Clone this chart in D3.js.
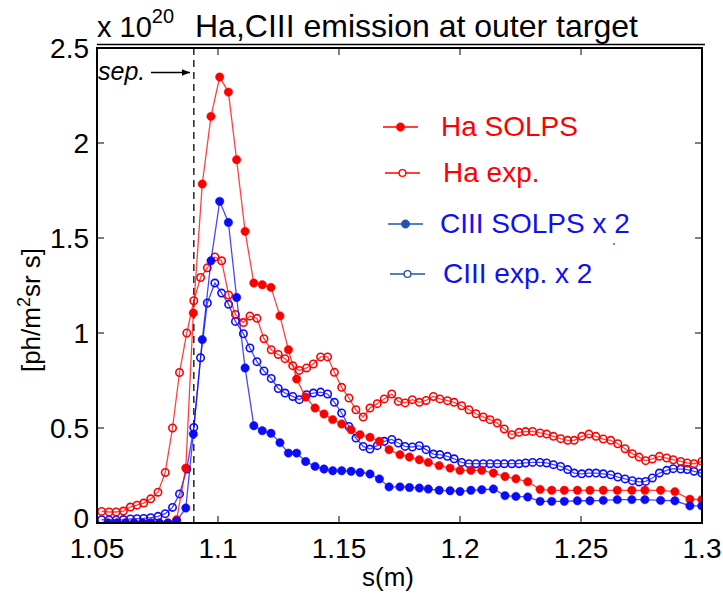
<!DOCTYPE html>
<html><head><meta charset="utf-8">
<script src="https://cdn.jsdelivr.net/npm/d3@7"></script>
<style>body{margin:0;background:#fff}svg{display:block;font-family:"Liberation Sans",Arial,sans-serif}</style>
</head><body><svg id="c" width="723" height="594"></svg>
<script>
// ---- data ----
const xTicks = [1.05, 1.1, 1.15, 1.2, 1.25, 1.3];
const xTickLabels = ["1.05", "1.1", "1.15", "1.2", "1.25", "1.3"];
const yTicks = [0, 0.5, 1, 1.5, 2, 2.5];
const yTickLabels = ["0", "0.5", "1", "1.5", "2", "2.5"];
const sepPosition = 1.09;

// SOLPS grid (s in m)
const solpsS = [1.0545,1.0583,1.0618,1.0653,1.0688,1.0723,1.0758,1.0793,1.0829,1.0867,1.0898,1.0935,1.0971,1.1007,1.1043,1.1077,1.1112,1.1148,1.1183,1.1219,1.1256,1.1291,1.1325,1.1362,1.1401,1.1438,1.1474,1.1511,1.155,1.1587,1.1628,1.1667,1.1707,1.1752,1.1791,1.1832,1.1869,1.1914,1.1959,1.2,1.2045,1.209,1.2138,1.2186,1.2231,1.228,1.2331,1.2379,1.2431,1.2485,1.2537,1.2592,1.265,1.271,1.2764,1.2829,1.2888,1.295,1.2999];
const haSolps = [0,0,0,0,0,0,0,0,0.017,0.289,1.105,1.784,2.14,2.347,2.268,1.912,1.535,1.263,1.254,1.24,1.09,0.912,0.758,0.663,0.605,0.574,0.544,0.521,0.491,0.465,0.451,0.43,0.386,0.36,0.347,0.333,0.319,0.302,0.289,0.277,0.277,0.277,0.263,0.245,0.233,0.217,0.177,0.172,0.172,0.172,0.172,0.172,0.172,0.172,0.172,0.172,0.165,0.125,0.123];
const ciiiSolps = [0,0,0,0,0,0,0,0,0.01,0.079,0.468,0.965,1.38,1.693,1.582,1.187,0.816,0.512,0.486,0.472,0.423,0.368,0.368,0.324,0.298,0.284,0.275,0.275,0.272,0.266,0.258,0.232,0.19,0.19,0.187,0.184,0.179,0.172,0.17,0.166,0.172,0.175,0.179,0.144,0.14,0.137,0.114,0.114,0.114,0.117,0.117,0.119,0.123,0.123,0.123,0.119,0.117,0.09,0.09];

// experiment grid (s in m)
const expS = [1.0519,1.055,1.0579,1.0609,1.0638,1.0665,1.0693,1.0722,1.0752,1.0782,1.0812,1.0841,1.0871,1.09,1.0928,1.0956,1.0987,1.1015,1.1044,1.1072,1.1105,1.1132,1.1161,1.119,1.122,1.1249,1.1277,1.1309,1.1336,1.1366,1.1394,1.1424,1.1453,1.1481,1.1511,1.1541,1.157,1.16,1.1628,1.1658,1.1687,1.1718,1.1745,1.1773,1.1803,1.1832,1.186,1.189,1.1917,1.1948,1.1976,1.2007,1.2037,1.2066,1.2096,1.2124,1.2154,1.2183,1.2214,1.2244,1.2271,1.23,1.2331,1.2358,1.2386,1.2416,1.2445,1.2472,1.2503,1.2533,1.2562,1.2592,1.2623,1.2652,1.2682,1.2712,1.274,1.2767,1.2795,1.2824,1.2854,1.2881,1.2912,1.2939,1.2967,1.2999];
const haExp = [0.061,0.058,0.058,0.063,0.084,0.094,0.105,0.127,0.162,0.266,0.5,0.792,1.0,1.17,1.292,1.343,1.4,1.38,1.2,1.098,1.055,1.089,1.077,0.97,0.912,0.887,0.865,0.828,0.803,0.816,0.837,0.874,0.874,0.793,0.714,0.658,0.596,0.558,0.605,0.628,0.653,0.679,0.64,0.632,0.649,0.635,0.645,0.666,0.653,0.644,0.635,0.617,0.596,0.575,0.558,0.544,0.526,0.495,0.465,0.477,0.481,0.482,0.474,0.468,0.456,0.444,0.435,0.435,0.456,0.468,0.456,0.442,0.435,0.417,0.391,0.365,0.347,0.328,0.337,0.351,0.342,0.333,0.324,0.316,0.312,0.324];
const ciiiExp = [0.017,0.016,0.016,0.018,0.021,0.023,0.024,0.028,0.035,0.049,0.082,0.153,0.284,0.503,0.87,1.158,1.263,1.21,1.151,1.061,0.996,0.921,0.849,0.8,0.761,0.708,0.684,0.666,0.649,0.675,0.684,0.689,0.679,0.635,0.579,0.508,0.447,0.403,0.389,0.407,0.43,0.44,0.421,0.403,0.4,0.407,0.386,0.363,0.36,0.351,0.338,0.319,0.312,0.312,0.312,0.312,0.312,0.312,0.312,0.312,0.316,0.319,0.319,0.316,0.307,0.298,0.281,0.263,0.259,0.263,0.263,0.259,0.254,0.242,0.232,0.223,0.216,0.219,0.237,0.263,0.277,0.286,0.284,0.281,0.272,0.263];

const legendLabels = ["Ha SOLPS", "Ha exp.", "CIII SOLPS x 2", "CIII exp. x 2"];
const titleText = "Ha,CIII emission at outer target";

// ---- drawing ----
const svg = d3.select("#c");
const L = 97, R = 702, T = 48, B = 523;
const x = d3.scaleLinear().domain([1.05, 1.3]).range([L, R]);
const y = d3.scaleLinear().domain([0, 2.5]).range([B, T]);

const RED = "#ff0000", BLUE = "#0a0aff";

svg.append("defs").append("clipPath").attr("id", "clip")
  .append("rect").attr("x", L).attr("y", T - 2).attr("width", R - L).attr("height", B - T + 2);
svg.select("defs").append("marker").attr("id", "arr").attr("viewBox", "0 0 10 10")
  .attr("refX", 10).attr("refY", 5).attr("markerWidth", 11).attr("markerHeight", 8)
  .attr("markerUnits", "userSpaceOnUse").attr("orient", "auto")
  .append("path").attr("d", "M0,1 L10,5 L0,9 Z").attr("fill", "#000");

// separatrix dashed line
svg.append("line").attr("x1", x(sepPosition)).attr("x2", x(sepPosition))
  .attr("y1", T).attr("y2", B).attr("stroke", "#333").attr("stroke-width", 1.6)
  .attr("stroke-dasharray", "7,5");

const plot = svg.append("g").attr("clip-path", "url(#clip)");
const line = d3.line().x(d => x(d[0])).y(d => y(d[1]));

function series(sArr, vArr, color, filled) {
  const data = sArr.map((s, i) => [s, vArr[i]]);
  plot.append("path").datum(data).attr("d", line).attr("fill", "none")
    .attr("stroke", color).attr("stroke-width", 1.3).attr("stroke-opacity", 0.75);
  plot.append("g").selectAll("circle").data(data).join("circle")
    .attr("cx", d => x(d[0])).attr("cy", d => y(d[1]))
    .attr("r", filled ? 4.2 : 3.7)
    .attr("fill", filled ? color : "none")
    .attr("stroke", color).attr("stroke-width", filled ? 0.5 : 1.6);
}
series(expS, ciiiExp, BLUE, false);
series(solpsS, haSolps, RED, true);
series(expS, haExp, RED, false);
series(solpsS, ciiiSolps, BLUE, true);

// frame
const frame = svg.append("g").attr("stroke", "#000").attr("fill", "none");
frame.append("rect").attr("x", L).attr("y", T).attr("width", R - L).attr("height", B - T).attr("stroke-width", 2);
frame.append("line").attr("x1", L).attr("x2", R + 3).attr("y1", T - 3.5).attr("y2", T - 3.5).attr("stroke-width", 1.5);

// ticks (inward, all four sides)
const tk = 7;
xTicks.slice(1, -1).forEach(t => {
  frame.append("line").attr("x1", x(t)).attr("x2", x(t)).attr("y1", B).attr("y2", B - tk).attr("stroke-width", 1);
  frame.append("line").attr("x1", x(t)).attr("x2", x(t)).attr("y1", T).attr("y2", T + tk).attr("stroke-width", 1);
});
yTicks.slice(1, -1).forEach(t => {
  frame.append("line").attr("x1", L).attr("x2", L + tk).attr("y1", y(t)).attr("y2", y(t)).attr("stroke-width", 1);
  frame.append("line").attr("x1", R).attr("x2", R - tk).attr("y1", y(t)).attr("y2", y(t)).attr("stroke-width", 1);
});

// tick labels
svg.append("g").selectAll("text").data(xTicks).join("text")
  .attr("x", d => x(d)).attr("y", 558).attr("text-anchor", "middle")
  .attr("font-size", 28).text((d, i) => xTickLabels[i]);
svg.append("g").selectAll("text").data(yTicks).join("text")
  .attr("x", 89).attr("y", d => y(d) + (d === 0 ? 5 : 10)).attr("text-anchor", "end")
  .attr("font-size", 28).text((d, i) => yTickLabels[i]);

// axis labels
svg.append("text").attr("x", 388).attr("y", 586).attr("text-anchor", "middle")
  .attr("font-size", 26).text("s(m)");
const yl = svg.append("text").attr("transform", "translate(40,310) rotate(-90)")
  .attr("text-anchor", "middle").attr("font-size", 26);
yl.append("tspan").text("[ph/m");
yl.append("tspan").attr("dy", -10).attr("font-size", 18).text("2");
yl.append("tspan").attr("dy", 10).text("sr s]");

// exponent and title
const ex = svg.append("text").attr("x", 97).attr("y", 37).attr("font-size", 29);
ex.append("tspan").text("x 10");
ex.append("tspan").attr("dy", -14).attr("font-size", 20).text("20");
svg.append("text").attr("x", 195).attr("y", 37).attr("font-size", 32).text(titleText);

// sep annotation
svg.append("text").attr("x", 98).attr("y", 80).attr("font-size", 25).attr("font-style", "italic").text("sep.");
svg.append("line").attr("x1", 151).attr("x2", 190).attr("y1", 72.5).attr("y2", 72.5)
  .attr("stroke", "#000").attr("stroke-width", 1.3).attr("marker-end", "url(#arr)");

// legend
const legendColors = [RED, RED, "#1f55a8", "#1f55a8"];
const legendText = [RED, RED, "#1010f0", "#1010f0"];
const legendFilled = [true, false, true, false];
const legendY = [127, 173, 224, 274];
const legendX = [383, 385, 388, 390];
const textX = [441, 443, 440, 443];
const lg = svg.append("g");
legendLabels.forEach((lab, i) => {
  lg.append("line").attr("x1", legendX[i]).attr("x2", legendX[i] + 35)
    .attr("y1", legendY[i]).attr("y2", legendY[i]).attr("stroke", legendColors[i]).attr("stroke-width", 1.5);
  lg.append("circle").attr("cx", legendX[i] + 17.5).attr("cy", legendY[i])
    .attr("r", legendFilled[i] ? 4.2 : 3.4)
    .attr("fill", legendFilled[i] ? legendColors[i] : "#fff")
    .attr("stroke", legendColors[i]).attr("stroke-width", legendFilled[i] ? 0.5 : 1.4);
  lg.append("text").attr("x", textX[i]).attr("y", legendY[i] + 9)
    .attr("font-size", 28).attr("fill", legendText[i]).text(lab);
});
lg.append("circle").attr("cx", 614).attr("cy", 244).attr("r", 0.9).attr("fill", "#1f55a8");
</script></body></html>
